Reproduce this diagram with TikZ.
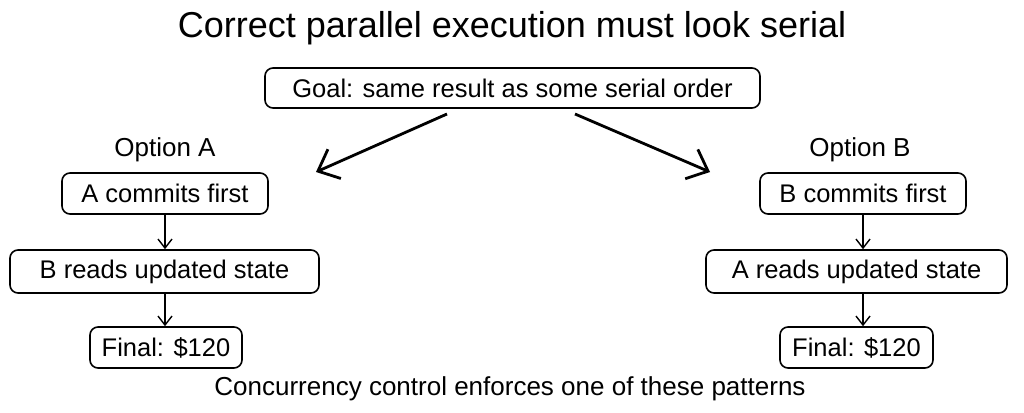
\documentclass[tikz,border=0pt]{standalone}
\usepackage{fontspec}
\setmainfont{Liberation Sans}
\usetikzlibrary{arrows.meta}

\begin{document}
\begin{tikzpicture}[x=1pt,y=-1pt,
  box/.style={draw, line width=1.6pt, rounded corners=8pt, inner sep=0pt,
    font=\fontsize{25.5}{28}\selectfont},
  label/.style={font=\fontsize{26}{29}\selectfont},
  flow/.style={-{Straight Barb[length=9pt,width=14pt]}, line width=1.4pt},
  split/.style={-{Straight Barb[length=18pt,width=32pt]}, line width=2.8pt}]
  \useasboundingbox (0,0) rectangle (1024,412);
  % Title and goal
  \node[font=\fontsize{36}{40}\selectfont] (title) at (512,28) {Correct parallel execution must look serial};
  \node[box, minimum width=495pt, minimum height=40pt] (goal) at (512.5,88) {Goal: same result as some serial order};
  % Option A
  \node[label] (optA) at (165,150) {Option A};
  \node[box, minimum width=206pt, minimum height=41pt] (a1) at (165,193.5) {A commits first};
  \node[box, minimum width=309pt, minimum height=43pt] (a2) at (164.5,271.5) {B reads updated state};
  \node[box, minimum width=152pt, minimum height=41pt] (a3) at (166,347.5) {Final: \$120};
  \draw[flow] (a1.south) -- (a1.south |- a2.north);
  \draw[flow] (a1.south |- a2.south) -- (a1.south |- a3.north);
  % Option B
  \node[label] (optB) at (860,150) {Option B};
  \node[box, minimum width=206pt, minimum height=41pt] (b1) at (863,193.5) {B commits first};
  \node[box, minimum width=301pt, minimum height=43pt] (b2) at (856.5,271.5) {A reads updated state};
  \node[box, minimum width=153pt, minimum height=41pt] (b3) at (856.5,347.5) {Final: \$120};
  \draw[flow] (b1.south) -- (b1.south |- b2.north);
  \draw[flow] (b1.south |- b2.south) -- (b1.south |- b3.north);
  % Split arrows
  \coordinate (startA) at (447,114);
  \coordinate (tipA) at (316,172);
  \coordinate (startB) at (575,114);
  \coordinate (tipB) at (710,172);
  \draw[split] (startA) -- (tipA);
  \draw[split] (startB) -- (tipB);
  % Caption
  \node[label] (caption) at (510,389) {Concurrency control enforces one of these patterns};
\end{tikzpicture}
\end{document}
